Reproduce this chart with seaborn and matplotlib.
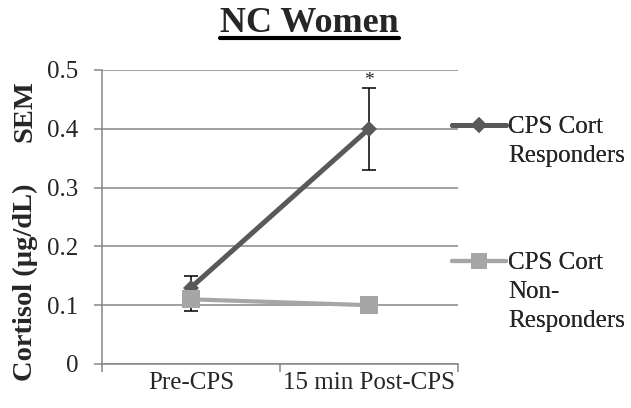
import matplotlib
matplotlib.use("Agg")
import matplotlib.pyplot as plt
from matplotlib.lines import Line2D
import seaborn as sns
import pandas as pd

# data
timepoints = ["Pre-CPS", "15 min Post-CPS"]
groups = ["CPS Cort\nResponders", "CPS Cort\nNon-\nResponders"]
responders_mean = [0.13, 0.40]
responders_sem = [0.02, 0.07]
nonresponders_mean = [0.11, 0.10]
nonresponders_sem = [0.02, 0.005]
y_ticks = [0, 0.1, 0.2, 0.3, 0.4, 0.5]
y_tick_labels = ["0", "0.1", "0.2", "0.3", "0.4", "0.5"]

df = pd.DataFrame({
    "time": timepoints * 2,
    "cortisol": responders_mean + nonresponders_mean,
    "sem": responders_sem + nonresponders_sem,
    "group": [groups[0]] * 2 + [groups[1]] * 2,
})

sns.set_style("white")
plt.rcParams["font.family"] = ["Liberation Serif", "DejaVu Serif"]

dark = "#595959"
light = "#A6A6A6"
grid_c = "#868686"

fig = plt.figure(figsize=(6.31, 4.08), dpi=100)
ax = fig.add_axes([102 / 631, 1 - 364 / 408, 356 / 631, 294 / 408])

# error bars behind the markers
for i, g in enumerate(groups):
    sub = df[df["group"] == g]
    ax.errorbar([0, 1], sub["cortisol"], yerr=sub["sem"], fmt="none",
                ecolor="black", elinewidth=1.1, capsize=4.7, capthick=1.1,
                zorder=2)

sns.pointplot(data=df, x="time", y="cortisol", hue="group",
              order=timepoints, hue_order=groups,
              palette=[dark, light], markers=["D", "s"],
              errorbar=None, ax=ax, legend=False)

# restyle lines from pointplot
sizes = [8.5, 13]
widths = [3.6, 3.0]
for line, c, ms, lw in zip(ax.lines[-2:], [dark, light], sizes, widths):
    line.set_linewidth(lw)
    line.set_markersize(ms)
    line.set_markeredgewidth(0)
    line.set_color(c)
    line.set_zorder(3)
ax.lines[-1].set_zorder(4)

ax.set_xlim(-0.5, 1.5)
ax.set_ylim(0, 0.5)
ax.set_yticks(y_ticks)
ax.set_yticklabels(y_tick_labels)
ax.set_xticks([-0.5, 0.5, 1.5])
ax.set_xticklabels([])
ax.set_xticks([0, 1], minor=True)
ax.set_xticklabels(timepoints, minor=True)
ax.tick_params(axis="x", which="minor", length=0, pad=6, labelsize=18)
ax.tick_params(axis="x", which="major", length=6, width=1.1, color=grid_c,
               direction="out", bottom=True)
ax.tick_params(axis="y", length=6, width=1.1, color=grid_c, direction="out",
               left=True, pad=11, labelsize=18)
ax.set_xlabel("")
ax.set_ylabel("")

ax.yaxis.grid(True, color=grid_c, linewidth=1.1)
ax.set_axisbelow(True)
for s in ["top", "right"]:
    ax.spines[s].set_visible(False)
for s in ["left", "bottom"]:
    ax.spines[s].set_color(grid_c)
    ax.spines[s].set_linewidth(1.1)

# y axis titles
ax.text(-0.216, 0.279, "Cortisol (µg/dL)", transform=ax.transAxes,
        rotation=90, ha="center", va="center", fontsize=20.5, fontweight="bold")
ax.text(-0.216, 0.86, "SEM", transform=ax.transAxes,
        rotation=90, ha="center", va="center", fontsize=20.5, fontweight="bold")

# significance marker
ax.text(1, 0.482, "*", ha="center", va="center", fontsize=14)

# title with underline
title = fig.text(0.491, 1 - 32 / 408, "NC Women", ha="center", va="baseline",
                 fontsize=26, fontweight="bold")
fig.canvas.draw()
bb = title.get_window_extent().transformed(fig.transFigure.inverted())
fig.add_artist(Line2D([bb.x0, bb.x1], [1 - 38 / 408] * 2, color="black",
                      linewidth=3, transform=fig.transFigure))

# legend entries to the right, handle level with the first text line
handles = [
    Line2D([], [], color=dark, marker="D", markersize=8, linewidth=3.6,
           markeredgewidth=0),
    Line2D([], [], color=light, marker="s", markersize=11.5, linewidth=3.0,
           markeredgewidth=0),
]
tops = [116, 252]
for h, lab, top in zip(handles, groups, tops):
    leg = fig.legend(handles=[h], labels=[lab], loc="upper left",
                     bbox_to_anchor=(452 / 631, 1 - top / 408),
                     frameon=False, fontsize=18, borderpad=0,
                     borderaxespad=0, handlelength=2.15, handletextpad=0.1)
    for t in leg.get_texts():
        t.set_linespacing(1.42)
    for col in leg._legend_handle_box.get_children():
        for row in col.get_children():
            row.align = "top"
    fig.add_artist(leg)

fig.savefig("out.png", dpi=100)
